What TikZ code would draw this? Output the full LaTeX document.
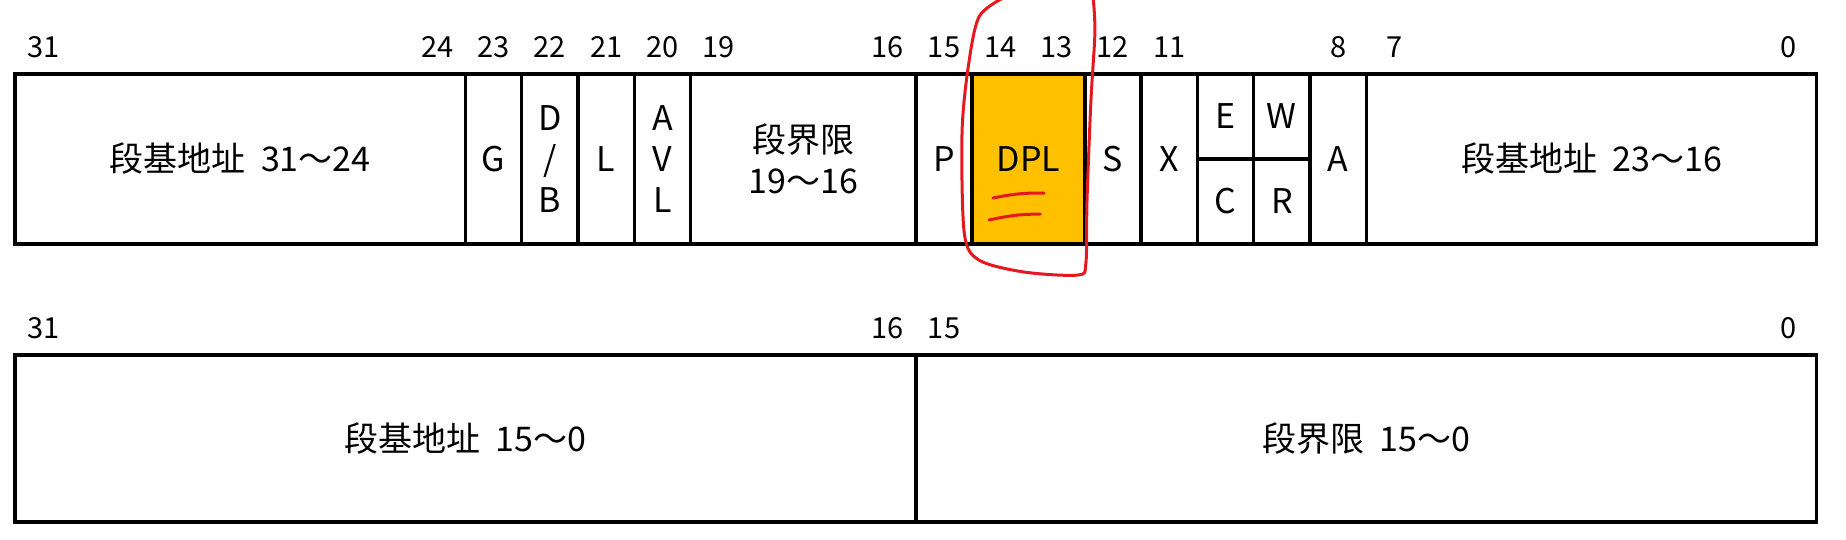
\documentclass[tikz,border=0pt]{standalone}
\usepackage{fontspec}
\setmainfont{Noto Sans CJK SC}
\usepackage{tikz}
\definecolor{dplgold}{HTML}{FFC000}
\definecolor{inkred}{HTML}{E5171F}
\def\bitw{56.3pt}
\def\gap{\hspace{0.45em}}
\tikzset{
  field/.style={draw, line width=3.5pt, inner sep=0pt, minimum height=170pt,
    font=\fontsize{34}{41}\selectfont, align=center},
  half/.style={field, minimum height=85pt, minimum width=\bitw},
  bitno/.style={font=\fontsize{29}{30}\selectfont, inner sep=0pt},
  redpen/.style={inkred, line width=3pt, line cap=round}
}

\begin{document}
\begin{tikzpicture}[x=56.3pt, y=1pt]
  \useasboundingbox (-0.266,0) rectangle (32.52,539);
  % high descriptor word
  \node[field, minimum width=8*\bitw] (base3) at (4,380) {段基地址\gap 31～24};
  \node[field, minimum width=\bitw] (g) at (8.5,380) {G};
  \node[field, minimum width=\bitw] (db) at (9.5,380) {D\\/\\B};
  \node[field, minimum width=\bitw] (l) at (10.5,380) {L};
  \node[field, minimum width=\bitw] (avl) at (11.5,380) {A\\V\\L};
  \node[field, minimum width=4*\bitw] (lim2) at (14,380) {段界限\\19～16};
  \node[field, minimum width=\bitw] (p) at (16.5,380) {P};
  \node[field, minimum width=2*\bitw, fill=dplgold] (dpl) at (18,380) {DPL};
  \node[field, minimum width=\bitw] (s) at (19.5,380) {S};
  \node[field, minimum width=\bitw] (x) at (20.5,380) {X};
  \node[half] (e) at (21.5,422.5) {E};
  \node[half] (c) at (21.5,337.5) {C};
  \node[half] (w) at (22.5,422.5) {W};
  \node[half] (r) at (22.5,337.5) {R};
  \node[field, minimum width=\bitw] (a) at (23.5,380) {A};
  \node[field, minimum width=8*\bitw] (base2) at (28,380) {段基地址\gap 23～16};
  % low descriptor word
  \node[field, minimum width=16*\bitw, minimum height=167pt] (base1) at (8,100.5) {段基地址\gap 15～0};
  \node[field, minimum width=16*\bitw, minimum height=167pt] (lim1) at (24,100.5) {段界限\gap 15～0};
  % bit numbers
  \foreach \b in {31,24,23,22,21,20,19,16,15,14,13,12,11,8,7,0}
    \node[bitno] (t\b) at (31.5-\b,492) {\b};
  \foreach \b in {31,16,15,0}
    \node[bitno] (u\b) at (31.5-\b,211) {\b};
  % red marks
  \draw[redpen] plot[smooth] coordinates {
    (17.55,541) (17.12,522) (16.93,472) (16.82,406) (16.86,306) (17.12,279)
    (17.92,267) (18.88,264) (19.02,276) (19.04,339) (19.11,439) (19.18,506) (19.15,541)};
  \draw[redpen] (17.37,341) to[bend left=6] (18.28,346);
  \draw[redpen] (17.30,319) to[bend left=6] (18.21,325);
\end{tikzpicture}
\end{document}
